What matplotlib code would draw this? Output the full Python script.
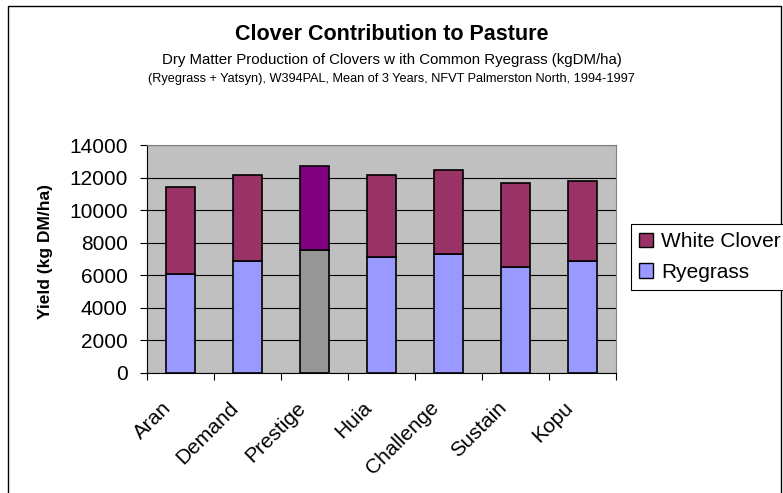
"""Clover contribution to pasture - stacked bar chart."""
import matplotlib
matplotlib.use("Agg")
import matplotlib.pyplot as plt
import matplotlib.patches as mpatches
import matplotlib.transforms as mtransforms
import numpy as np

plt.rcParams["font.family"] = ["Liberation Sans", "DejaVu Sans"]

CULTIVARS = ["Aran", "Demand", "Prestige", "Huia", "Challenge", "Sustain", "Kopu"]
RYEGRASS = [6050, 6850, 7550, 7100, 7300, 6500, 6900]
TOTAL = [11450, 12170, 12700, 12170, 12450, 11650, 11800]
WHITE_CLOVER = [t - r for t, r in zip(TOTAL, RYEGRASS)]

RYE_COLOR = "#9999FF"
CLOVER_COLOR = "#993366"
# Prestige is highlighted in the original
RYE_COLORS = [RYE_COLOR, RYE_COLOR, "#969696", RYE_COLOR, RYE_COLOR, RYE_COLOR, RYE_COLOR]
CLOVER_COLORS = [CLOVER_COLOR, CLOVER_COLOR, "#800080", CLOVER_COLOR, CLOVER_COLOR,
                 CLOVER_COLOR, CLOVER_COLOR]

W, H = 783, 493
fig = plt.figure(figsize=(W / 100, H / 100), dpi=100)

# outer chart border
fig.patches.append(mpatches.Rectangle((8 / W, -0.05), (781 - 8) / W, 1.05 - 6 / H,
                                      transform=fig.transFigure, fill=False,
                                      edgecolor="black", linewidth=1.0))

ax = fig.add_axes([147 / W, 1 - 373 / H, (616 - 147) / W, (373 - 145) / H])
ax.set_facecolor("#C0C0C0")

x = np.arange(len(CULTIVARS))
width = 0.42
ax.bar(x, RYEGRASS, width, color=RYE_COLORS, edgecolor="black", linewidth=1.2, zorder=3)
ax.bar(x, WHITE_CLOVER, width, bottom=RYEGRASS, color=CLOVER_COLORS,
       edgecolor="black", linewidth=1.2, zorder=3)

ax.set_xlim(-0.5, len(CULTIVARS) - 0.5)
ax.set_ylim(0, 14000)
ax.set_yticks(np.arange(0, 14001, 2000))
ax.tick_params(axis="y", labelsize=15, length=5, width=0.8, pad=9, direction="out")
ax.grid(axis="y", color="black", linewidth=0.8, zorder=1)

# category labels at centres, tick marks between categories
ax.set_xticks(x)
ax.set_xticklabels(CULTIVARS, rotation=45, ha="right", va="top",
                   rotation_mode="anchor", fontsize=15)
ax.tick_params(axis="x", which="major", length=0, pad=18)
shift = mtransforms.ScaledTranslation(-19 / 100, 0, fig.dpi_scale_trans)
for lbl in ax.get_xticklabels():
    lbl.set_transform(lbl.get_transform() + shift)
ax.set_xticks(np.arange(-0.5, len(CULTIVARS)), minor=True)
ax.tick_params(axis="x", which="minor", length=5, width=0.8, direction="out")

for side in ["top", "right"]:
    ax.spines[side].set_color("#808080")
    ax.spines[side].set_linewidth(0.8)
for side in ["left", "bottom"]:
    ax.spines[side].set_linewidth(0.8)

ax.set_ylabel("Yield (kg DM/ha)", fontsize=12.5, fontweight="bold")
ax.yaxis.set_label_coords(-0.2, 0.533)

fig.text(0.5, 1 - 35 / H, "Clover Contribution to Pasture", ha="center", va="center",
         fontsize=15.5, fontweight="bold")
fig.text(0.5, 1 - 60 / H,
         "Dry Matter Production of Clovers w ith Common Ryegrass (kgDM/ha)",
         ha="center", va="center", fontsize=10.8)
fig.text(0.5, 1 - 79 / H,
         "(Ryegrass + Yatsyn), W394PAL, Mean of 3 Years, NFVT Palmerston North, 1994-1997",
         ha="center", va="center", fontsize=9.2)

handles = [mpatches.Patch(facecolor=CLOVER_COLOR, edgecolor="black", label="White Clover"),
           mpatches.Patch(facecolor=RYE_COLOR, edgecolor="black", label="Ryegrass")]
leg = fig.legend(handles=handles, loc="upper left", bbox_to_anchor=(631 / W, 1 - 224 / H),
                 fontsize=15, handlelength=0.67, handleheight=0.67, handletextpad=0.38,
                 borderpad=0.4, labelspacing=0.55, fancybox=False, framealpha=1,
                 edgecolor="black", borderaxespad=0)
leg.get_frame().set_linewidth(0.8)

fig.savefig("out.png", dpi=100)
